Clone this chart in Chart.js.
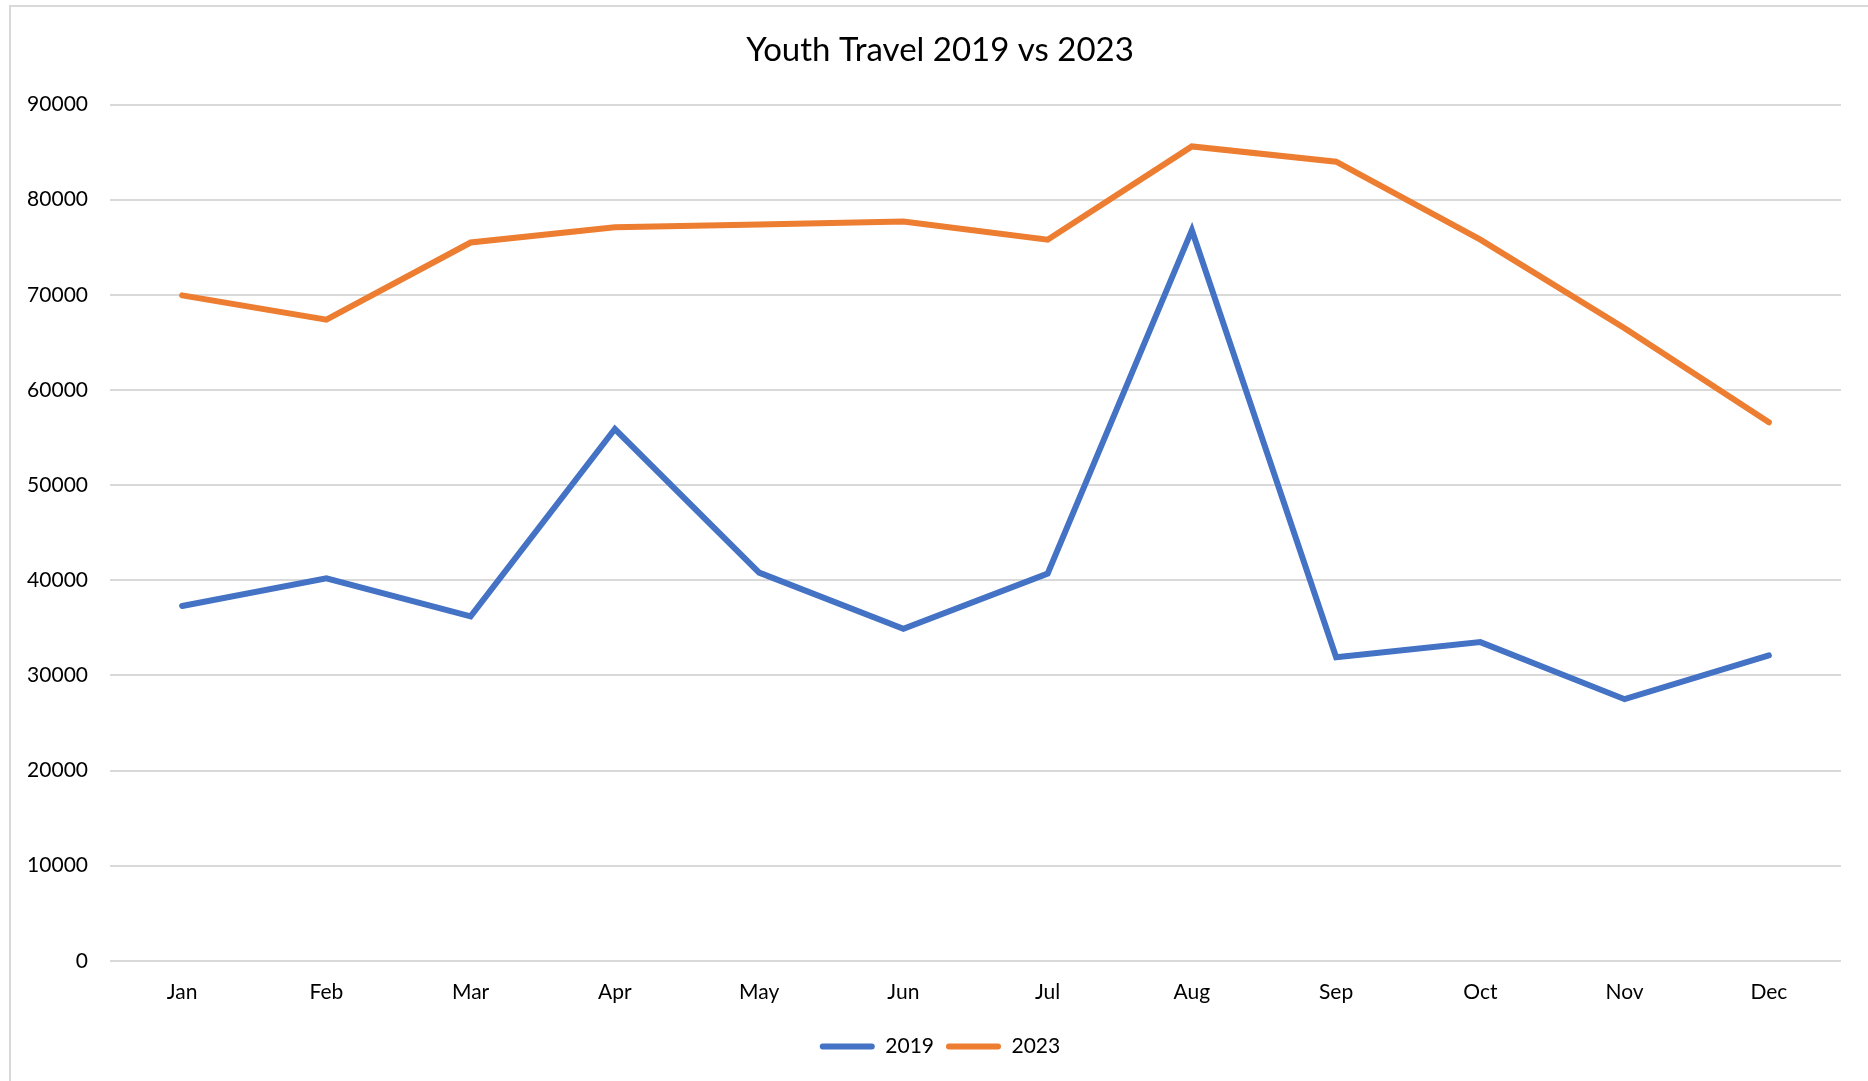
<!DOCTYPE html>
<html>
<head>
<meta charset="utf-8">
<script src="https://cdn.jsdelivr.net/npm/chart.js@4.4.1/dist/chart.umd.min.js"></script>
<style>
  html, body { margin: 0; padding: 0; background: #ffffff; overflow: hidden; }
  #frame { position: absolute; left: 9px; top: 5px; width: 1900px; height: 1100px; border: 2px solid #d9d9d9; box-sizing: border-box; }
  #wrap { position: absolute; left: 0; top: 0; width: 1868px; height: 1081px; }
</style>
</head>
<body>
<div id="frame"></div>
<div id="wrap"><canvas id="c" width="1868" height="1081"></canvas></div>
<script>
const chartTitle = "Youth Travel 2019 vs 2023";
const categories = ["Jan", "Feb", "Mar", "Apr", "May", "Jun", "Jul", "Aug", "Sep", "Oct", "Nov", "Dec"];
const seriesNames = ["2019", "2023"];
const values2019 = [37300, 40200, 36200, 55900, 40800, 34900, 40700, 76800, 31900, 33500, 27500, 32100];
const values2023 = [69950, 67400, 75500, 77100, 77400, 77700, 75800, 85600, 84000, 75800, 66500, 56600];
const yMin = 0, yMax = 90000, yStep = 10000;

const FONT = "Lato, 'Open Sans', sans-serif";
const colors = ["#4472C4", "#ED7D31"];

new Chart(document.getElementById("c"), {
  type: "line",
  data: {
    labels: categories,
    datasets: [
      { label: seriesNames[0], data: values2019, borderColor: colors[0], backgroundColor: colors[0], borderWidth: 6, pointRadius: 0, tension: 0, borderCapStyle: "round", borderJoinStyle: "miter" },
      { label: seriesNames[1], data: values2023, borderColor: colors[1], backgroundColor: colors[1], borderWidth: 6, pointRadius: 0, tension: 0, borderCapStyle: "round", borderJoinStyle: "miter" }
    ]
  },
  options: {
    responsive: false,
    animation: false,
    devicePixelRatio: 1,
    layout: { padding: { left: 12, right: 0, top: 0, bottom: 14 } },
    plugins: {
      title: {
        display: true, text: chartTitle, color: "#000000",
        font: { family: FONT, size: 33, weight: "normal" },
        padding: { top: 31, bottom: 34 }
      },
      legend: {
        position: "bottom",
        labels: {
          color: "#000000",
          font: { family: FONT, size: 21 },
          boxWidth: 55, boxHeight: 6,
          useBorderRadius: true, borderRadius: 3,
          padding: 12,
          generateLabels(chart) {
            return chart.data.datasets.map((ds, i) => ({
              text: ds.label, fillStyle: ds.borderColor, strokeStyle: ds.borderColor,
              lineWidth: 0, hidden: false, datasetIndex: i, borderRadius: 3, fontColor: "#000000"
            }));
          }
        }
      },
      tooltip: { enabled: false }
    },
    scales: {
      x: {
        offset: true,
        grid: { display: false, drawTicks: false },
        border: { display: false },
        ticks: { color: "#000000", font: { family: FONT, size: 21 }, padding: 19, maxRotation: 0 }
      },
      y: {
        min: yMin, max: yMax,
        grid: { color: "#d9d9d9", lineWidth: 2, drawTicks: false },
        border: { display: false },
        ticks: { stepSize: yStep, color: "#000000", font: { family: FONT, size: 21 }, padding: 22,
                 callback: (v) => String(v) },
        afterFit(scale) { scale.width = 98; }
      },
      yRightSpace: {
        position: "right", min: 0, max: 1,
        grid: { display: false, drawTicks: false },
        border: { display: false },
        ticks: { display: false },
        afterFit(scale) { scale.width = 27; }
      }
    }
  }
});
</script>
</body>
</html>
